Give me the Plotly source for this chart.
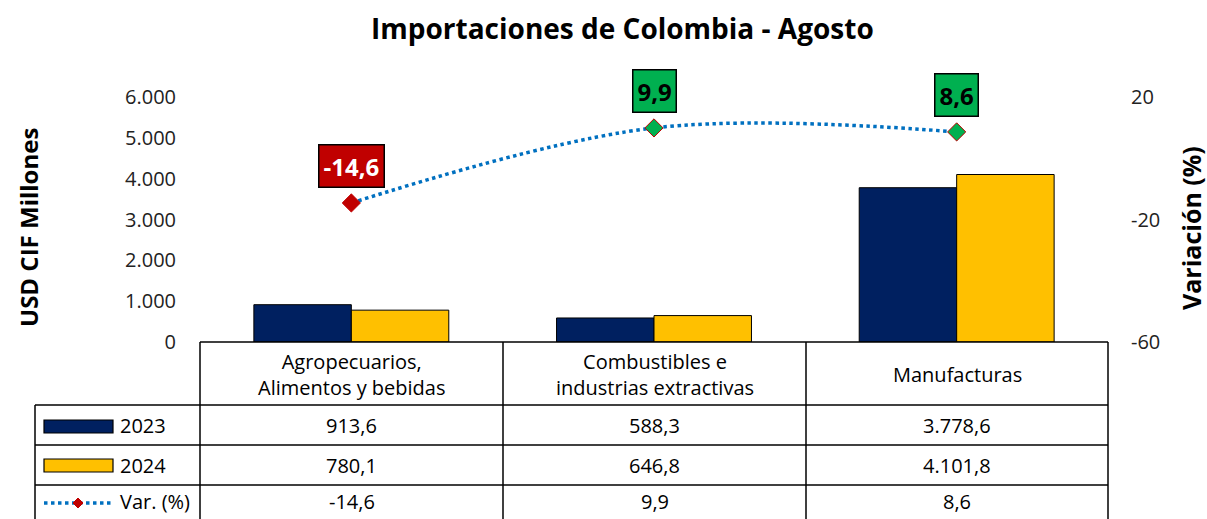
import plotly.graph_objects as go
from plotly.subplots import make_subplots

categories = ["Agropecuarios,<br>Alimentos y bebidas",
              "Combustibles e<br>industrias extractivas",
              "Manufacturas"]
cat_keys = ["Agro", "Comb", "Manu"]
v2023 = [913.6, 588.3, 3778.6]
v2024 = [780.1, 646.8, 4101.8]
var_pct = [-14.6, 9.9, 8.6]
series_names = ["2023", "2024", "Var. (%)"]
left_ticks = [0, 1000, 2000, 3000, 4000, 5000, 6000]
right_ticks = [-60, -20, 20]

W, H = 1207, 519
L, R, T, B = 200, 1108, 97, 342
FONT = "Open Sans"
NAVY, GOLD, BLUE = "#002060", "#FFC000", "#0070C0"
RED, GREEN = "#C00000", "#00B050"
FS = 20


def fmt(v, d=1):
    s = f"{v:,.{d}f}"
    return s.replace(",", "X").replace(".", ",").replace("X", ".")


def px(x):
    return (x - L) / (R - L)


def py(y):
    return (B - y) / (B - T)


fig = make_subplots(specs=[[{"secondary_y": True}]])
fig.add_trace(go.Bar(x=cat_keys, y=v2023, name=series_names[0], marker=dict(color=NAVY, line=dict(color="black", width=1))), secondary_y=False)
fig.add_trace(go.Bar(x=cat_keys, y=v2024, name=series_names[1], marker=dict(color=GOLD, line=dict(color="black", width=1))), secondary_y=False)
mcolors = [RED if v < 0 else GREEN for v in var_pct]
fig.add_trace(go.Scatter(x=cat_keys, y=var_pct, name=series_names[2], mode="lines+markers",
                         line=dict(color=BLUE, width=3.5, dash="dot", shape="spline", smoothing=1.0),
                         marker=dict(symbol="diamond", size=14, color=mcolors, line=dict(color=RED, width=1))),
              secondary_y=True)

annotations = []
# value labels above the line points
for k, v in zip(cat_keys, var_pct):
    neg = v < 0
    annotations.append(dict(x=k, y=v, xref="x", yref="y2", text=f"<b>{fmt(v)}</b>", showarrow=False,
                            xanchor="center", yanchor="middle",
                            yshift=37, font=dict(family=FONT, size=24, color="white" if neg else "black"),
                            bgcolor=RED if neg else GREEN, bordercolor="black", borderwidth=1.5, borderpad=4))

# title
annotations.append(dict(x=px(622), y=py(28), xref="paper", yref="paper", text="<b>Importaciones de Colombia - Agosto</b>",
                        xanchor="center", yanchor="middle",
                        showarrow=False, font=dict(family=FONT, size=28, color="black")))
# axis titles
annotations.append(dict(x=px(28), y=py(228), xref="paper", yref="paper", text="<b>USD CIF Millones</b>", textangle=-90,
                        xanchor="center", yanchor="middle",
                        showarrow=False, font=dict(family=FONT, size=24, color="black")))
annotations.append(dict(x=px(1191), y=py(228), xref="paper", yref="paper", text="<b>Variación (%)</b>", textangle=-90,
                        xanchor="center", yanchor="middle",
                        showarrow=False, font=dict(family=FONT, size=25, color="black")))

# table
col_edges = [200, 503, 806, 1108]
row_edges = [342, 405, 445, 485, 530]
shapes = []
lw = 1.5
shapes.append(dict(type="line", xref="paper", yref="paper", x0=px(200), x1=px(1108), y0=py(342), y1=py(342), line=dict(color="black", width=lw)))
for y in row_edges[1:4]:
    shapes.append(dict(type="line", xref="paper", yref="paper", x0=px(35), x1=px(1108), y0=py(y), y1=py(y), line=dict(color="black", width=lw)))
for x in col_edges:
    shapes.append(dict(type="line", xref="paper", yref="paper", x0=px(x), x1=px(x), y0=py(342), y1=py(530), line=dict(color="black", width=lw)))
shapes.append(dict(type="line", xref="paper", yref="paper", x0=px(35), x1=px(35), y0=py(405), y1=py(530), line=dict(color="black", width=lw)))

# header category labels
for i, c in enumerate(categories):
    cx = (col_edges[i] + col_edges[i + 1]) / 2
    annotations.append(dict(x=px(cx), y=py(374), xref="paper", yref="paper", text=c, showarrow=False,
                            xanchor="center", yanchor="middle",
                            font=dict(family=FONT, size=FS, color="black")))

rows = [v2023, v2024, var_pct]
row_centers = [425, 465, 502]
for r, vals in enumerate(rows):
    cy = row_centers[r]
    for i, v in enumerate(vals):
        cx = (col_edges[i] + col_edges[i + 1]) / 2
        annotations.append(dict(x=px(cx), y=py(cy), xref="paper", yref="paper", text=fmt(v), showarrow=False,
                                xanchor="center", yanchor="middle",
                                font=dict(family=FONT, size=FS, color="black")))
    annotations.append(dict(x=px(118), y=py(cy), xref="paper", yref="paper", text=series_names[r], showarrow=False,
                            xanchor="left", yanchor="middle", font=dict(family=FONT, size=FS, color="black")))

# legend keys
shapes.append(dict(type="rect", xref="paper", yref="paper", x0=px(44), x1=px(113), y0=py(420), y1=py(433),
                   fillcolor=NAVY, line=dict(color="black", width=1.2)))
shapes.append(dict(type="rect", xref="paper", yref="paper", x0=px(44), x1=px(113), y0=py(459), y1=py(472),
                   fillcolor=GOLD, line=dict(color="black", width=1.2)))
shapes.append(dict(type="line", xref="paper", yref="paper", x0=px(44), x1=px(113), y0=py(503), y1=py(503),
                   line=dict(color=BLUE, width=3.5, dash="dot")))
d = 5
shapes.append(dict(type="path", xref="paper", yref="paper",
                   path=f"M {px(78-d)},{py(503)} L {px(78)},{py(503-d)} L {px(78+d)},{py(503)} L {px(78)},{py(503+d)} Z",
                   fillcolor=RED, line=dict(color=RED, width=1)))

fig.update_layout(
    width=W, height=H,
    margin=dict(l=L, r=W - R, t=T, b=H - B, autoexpand=False),
    paper_bgcolor="white", plot_bgcolor="white",
    barmode="group", bargap=0.356, bargroupgap=0,
    showlegend=False, separators=",.",
    font=dict(family=FONT, size=FS, color="black"),
    annotations=annotations, shapes=shapes,
)
fig.update_xaxes(domain=[0, 1], showticklabels=False, showline=False, showgrid=False, zeroline=False, ticks="")
fig.update_yaxes(range=[0, 6000], tickvals=left_ticks, tickformat=",d", showgrid=False, zeroline=False, showline=False,
                 ticks="", ticklabelstandoff=23, tickfont=dict(family=FONT, size=FS, color="#222"), secondary_y=False)
fig.update_yaxes(range=[-60, 20], tickvals=right_ticks, ticktext=[str(t) for t in right_ticks], showgrid=False,
                 zeroline=False, showline=False,
                 ticks="", ticklabelstandoff=22, tickfont=dict(family=FONT, size=FS, color="#222"), secondary_y=True)

fig.write_html("out.html", config={"displayModeBar": False},
               post_script="document.body.style.margin='0';")
